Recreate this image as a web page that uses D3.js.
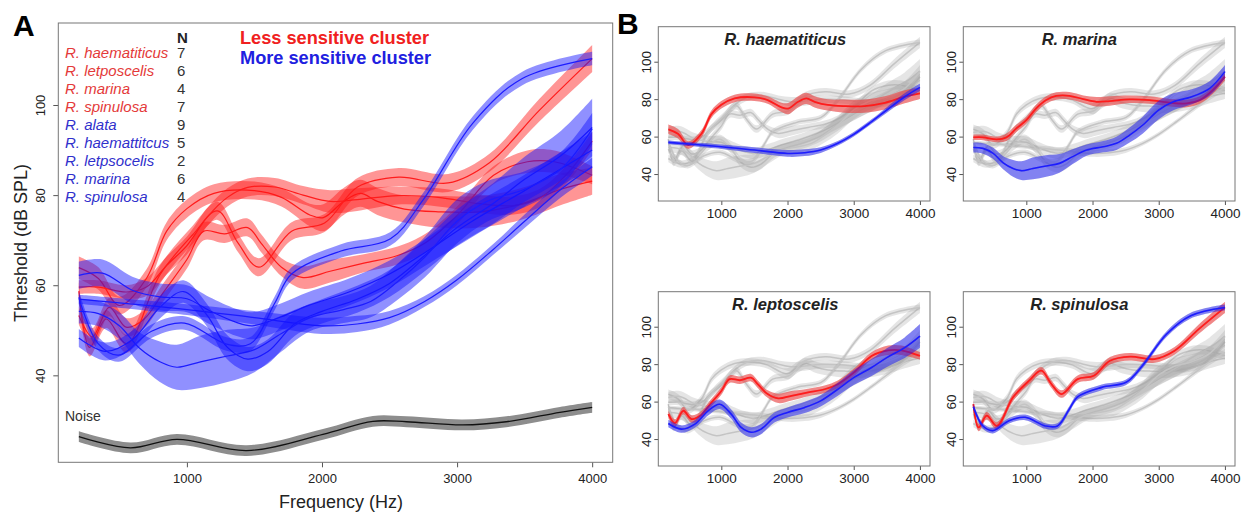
<!DOCTYPE html>
<html><head><meta charset="utf-8">
<script src="https://cdn.jsdelivr.net/npm/d3@7"></script>
<style>
body{margin:0;background:#fff}
svg{font-family:"Liberation Sans",Arial,Helvetica,sans-serif}
</style>
</head><body>
<svg id="chart" width="1250" height="516"></svg>
<script>
// ---------------- DATA (frequency Hz, threshold dB SPL, CI half-width) ----------------
const haemLess   = [[200,63.9,2.5],[345,61.5,2.5],[500,55.5,2],[700,61.5,2],[850,72,2],[1000,77,2],[1200,80.4,2],[1500,81,2],[1700,79.5,2],[1910,75.6,2.5],[2010,75,3],[2160,78.6,3],[2285,80.4,3],[2410,78.6,3],[2610,76.9,3],[2860,76.3,3.5],[3165,76.3,3.5],[3470,78,3.5],[3770,81.3,3.5],[4000,83.1,3]];
const leptLess   = [[200,53.3,2],[300,48.5,2],[425,55.1,2],[550,50.7,2],[680,52.4,2],[830,58.6,2],[1000,65.7,2],[1125,72,2],[1280,71.4,2],[1450,72.8,2],[1550,69.3,2],[1700,64,2],[1860,61.7,2.5],[2060,63.1,2.5],[2310,64.9,2],[2560,66.6,2],[2760,69.3,2],[3000,75.5,2],[3270,84.4,2],[3520,87.4,2.5],[3720,87.4,2.5],[4000,84.4,2]];
const marinaLess = [[200,59.6,1.5],[345,59.6,1.5],[553,58.5,1.5],[700,59.6,2],[850,64.4,2],[1000,68.8,2],[1150,75.1,2],[1300,79.5,2],[1450,81.7,2],[1650,81.8,2],[1860,80,2],[2060,78.6,2.5],[2260,79,2.5],[2560,79.9,2],[2860,79.5,2],[3165,78.1,2],[3420,77.7,2],[3620,79.5,2],[3820,84.9,2],[4000,92,2]];
const spinLess   = [[200,58.7,2],[280,46.2,2],[402,52.5,2],[555,47,2],[800,62.3,2],[1043,71.2,2],[1226,76.5,2],[1378,69.4,2],[1531,64,2],[1775,72,2],[2019,73.8,2],[2263,81.8,2],[2568,84,2],[2934,82.7,2],[3240,87.2,2],[3605,98.7,2.5],[4000,110.3,3]];

const alataMore  = [[200,62.2,3],[375,62.7,3],[596,58.9,3],[800,57.4,3],[1000,57,3],[1165,54.4,3],[1362,51.8,3],[1485,51,3],[1700,53,3],[1900,55.5,3],[2200,58.5,3],[2500,62.5,3],[2800,68,3],[3100,74,3.5],[3500,81,3.5],[4000,90,4]];
const haemMore   = [[200,56.9,1],[1000,54.6,1.2],[1500,52.8,1.5],[2000,51,1.8],[2260,51.4,1.8],[2500,52.8,1.5],[2760,56.4,1.2],[3000,61.2,1.2],[3270,68,1.2],[3500,74.2,1.5],[3770,81.3,1.8],[4000,86.3,2]];
const leptMore   = [[200,48.3,2],[395,45.3,2],[600,48,2],[800,55.1,2.5],[975,58.6,2.5],[1150,53.3,2.5],[1300,46.2,2.7],[1450,43.6,2.7],[1600,45.3,2.7],[1800,51.5,2.7],[2000,54.2,2.7],[2260,56.9,3],[2500,60.4,3],[2760,66.6,3.5],[3000,72.8,4],[3270,78.2,4.5],[3500,83.5,5],[3770,88.8,5.5],[4000,95,6.4]];
const marinaMore = [[200,54.2,2.7],[345,53.7,2.8],[500,51,3],[650,46,3.5],[800,43,4.5],[925,41.8,5],[1100,43,5.8],[1300,44.3,5.8],[1500,45.7,5],[1700,49.3,4],[1910,52.8,3],[2160,54.6,3],[2360,56.4,3.5],[2560,60.8,4],[2760,66.2,4.5],[3000,74.2,4.9],[3220,78.6,4.5],[3500,81.3,4],[3770,85.8,3.8],[4000,94.7,3.5]];
const spinMore   = [[200,57.3,1.5],[341,47.1,1.5],[494,44.5,1.5],[738,49.8,1.5],[982,51.6,1.5],[1287,47,1.5],[1470,47,1.5],[1650,56,1.5],[1775,62.5,1.5],[2140,67.6,1.5],[2507,70.3,1.5],[2750,79,1.5],[3117,96,1.5],[3483,105.9,1.5],[4000,110.3,1.5]];

const noise      = [[200,26.4,1.2],[581,23.9,1.2],[926,25.8,1.2],[1443,23.3,1.2],[2007,26.9,1.2],[2377,29.8,1.2],[2626,29.7,1.2],[3042,29.0,1.2],[3365,29.7,1.2],[3761,31.8,1.2],[4000,32.9,1.2]];

const freqTicks  = [1000,2000,3000,4000];
const thrTicks   = [40,60,80,100];
const legendNames = ["R. haematiticus","R. letposcelis","R. marina","R. spinulosa","R. alata","R. haemattitcus","R. letpsocelis","R. marina","R. spinulosa"];
const legendN     = [7,6,4,7,9,5,2,6,4];
const legendGroup = ["less","less","less","less","more","more","more","more","more"];
const clusterLabels = ["Less sensitive cluster","More sensitive cluster"];
const panelTitles = ["R. haematiticus","R. marina","R. leptoscelis","R. spinulosa"];

const lessSeries = [haemLess, leptLess, marinaLess, spinLess];
const moreSeries = [alataMore, haemMore, leptMore, marinaMore, spinMore];
const panelLess  = [haemLess, marinaLess, leptLess, spinLess];
const panelMore  = [haemMore, marinaMore, leptMore, spinMore];

// ---------------- STYLE ----------------
const C = {
  redLine:"#ff1c1c", redBand:"rgba(255,20,20,0.45)",
  blueLine:"#1c1cff", blueBand:"rgba(20,20,255,0.47)",
  grayLine:"#c4c4c4", grayBand:"rgba(160,160,160,0.28)",
  redText:"#e43a3a", blueText:"#3030cc",
  box:"#777"
};
const svg = d3.select("#chart");
const curve = d3.curveCatmullRom.alpha(0.5);

function drawSeries(g, xs, ys, data, band, line, lw){
  g.append("path").datum(data)
    .attr("d", d3.area().x(d=>xs(d[0])).y0(d=>ys(d[1]-d[2])).y1(d=>ys(d[1]+d[2])).curve(curve))
    .attr("fill", band);
  g.append("path").datum(data)
    .attr("d", d3.line().x(d=>xs(d[0])).y(d=>ys(d[1])).curve(curve))
    .attr("fill","none").attr("stroke", line).attr("stroke-width", lw);
}

function drawAxes(g, xs, ys, fs, xOff, yOff, tick){
  const [x0,x1] = xs.range(), [y0,y1] = ys.range();
  const ax = g.append("g").attr("transform",`translate(0,${y0})`)
    .call(d3.axisBottom(xs).tickValues(freqTicks).tickSize(tick).tickFormat(d3.format("d")));
  ax.select(".domain").remove();
  ax.selectAll("line").attr("stroke","#555");
  ax.selectAll("text").attr("y", xOff).attr("dy","0.35em").attr("font-size",fs).attr("fill","#222");
  const ay = g.append("g").attr("transform",`translate(${x0},0)`)
    .call(d3.axisLeft(ys).tickValues(thrTicks).tickSize(tick));
  ay.select(".domain").remove();
  ay.selectAll("line").attr("stroke","#555");
  ay.selectAll("text").attr("x",null).attr("dy","0.35em").attr("text-anchor","middle")
    .attr("transform",`translate(${-yOff},0) rotate(-90)`).attr("font-size",fs).attr("fill","#222");
  g.selectAll(".tick text").attr("font-family",null);
  g.append("rect").attr("x",x0).attr("y",y1).attr("width",x1-x0).attr("height",y0-y1)
    .attr("fill","none").attr("stroke",C.box).attr("stroke-width",1);
}

// ---------------- PANEL A ----------------
const xA = d3.scaleLinear().domain([48,4152]).range([58.3,612.7]);
const yA = d3.scaleLinear().domain([20.7,118.2]).range([462.3,23]);
const gA = svg.append("g");
lessSeries.forEach(s=>drawSeries(gA,xA,yA,s,C.redBand,C.redLine,1.2));
moreSeries.forEach(s=>drawSeries(gA,xA,yA,s,C.blueBand,C.blueLine,1.2));
drawSeries(gA,xA,yA,noise,"#8d8d8d","#111",1.3);
drawAxes(gA,xA,yA,13,16,18,5);

gA.append("text").attr("x",65).attr("y",421).attr("font-size",14).attr("fill","#333").text("Noise");
gA.append("text").attr("x",341).attr("y",508).attr("text-anchor","middle").attr("font-size",18).attr("fill","#222").text("Frequency (Hz)");
gA.append("text").attr("transform","translate(27,243) rotate(-90)").attr("text-anchor","middle").attr("font-size",18).attr("fill","#222").text("Threshold (dB SPL)");

// legend
gA.append("text").attr("x",177).attr("y",42.5).attr("font-size",15).attr("font-weight","bold").attr("fill","#222").text("N");
legendNames.forEach((nm,i)=>{
  const yy = 58.3 + i*18;
  gA.append("text").attr("x",65).attr("y",yy).attr("font-size",15).attr("font-style","italic")
    .attr("fill", legendGroup[i]==="less"?C.redText:C.blueText).text(nm);
  gA.append("text").attr("x",177).attr("y",yy).attr("font-size",15).attr("fill","#333").text(legendN[i]);
});
gA.append("text").attr("x",240).attr("y",44).attr("font-size",18.2).attr("font-weight","bold").attr("fill","#f02020").text(clusterLabels[0]);
gA.append("text").attr("x",240).attr("y",63.5).attr("font-size",18.2).attr("font-weight","bold").attr("fill","#2020e0").text(clusterLabels[1]);

svg.append("text").attr("x",13).attr("y",36).attr("font-size",30).attr("font-weight","bold").attr("fill","#000").text("A");
svg.append("text").attr("x",617).attr("y",34).attr("font-size",30).attr("font-weight","bold").attr("fill","#000").text("B");

// ---------------- PANEL B ----------------
const colLeft = [658.3, 963.3], rowTop = [26.7, 291.7], pW = 271.7, pH = 174.3;
const titleOff = [127, 116];
panelTitles.forEach((t,i)=>{
  const c = i%2, r = Math.floor(i/2);
  const xs = d3.scaleLinear().domain([48,4152]).range([colLeft[c], colLeft[c]+pW]);
  const ys = d3.scaleLinear().domain([25.6,118.7]).range([rowTop[r]+pH, rowTop[r]]);
  const g = svg.append("g");
  lessSeries.concat(moreSeries).forEach(s=>drawSeries(g,xs,ys,s,C.grayBand,C.grayLine,1.5));
  drawSeries(g,xs,ys,panelLess[i],C.redBand,C.redLine,1.8);
  drawSeries(g,xs,ys,panelMore[i],C.blueBand,C.blueLine,1.6);
  drawAxes(g,xs,ys,13.5,12.5,12.5,4);
  g.append("text").attr("x",colLeft[c]+titleOff[c]).attr("y",rowTop[r]+17.8).attr("text-anchor","middle")
    .attr("font-size",16.5).attr("font-weight","bold").attr("font-style","italic").attr("fill","#222").text(t);
});
</script>
</body></html>
